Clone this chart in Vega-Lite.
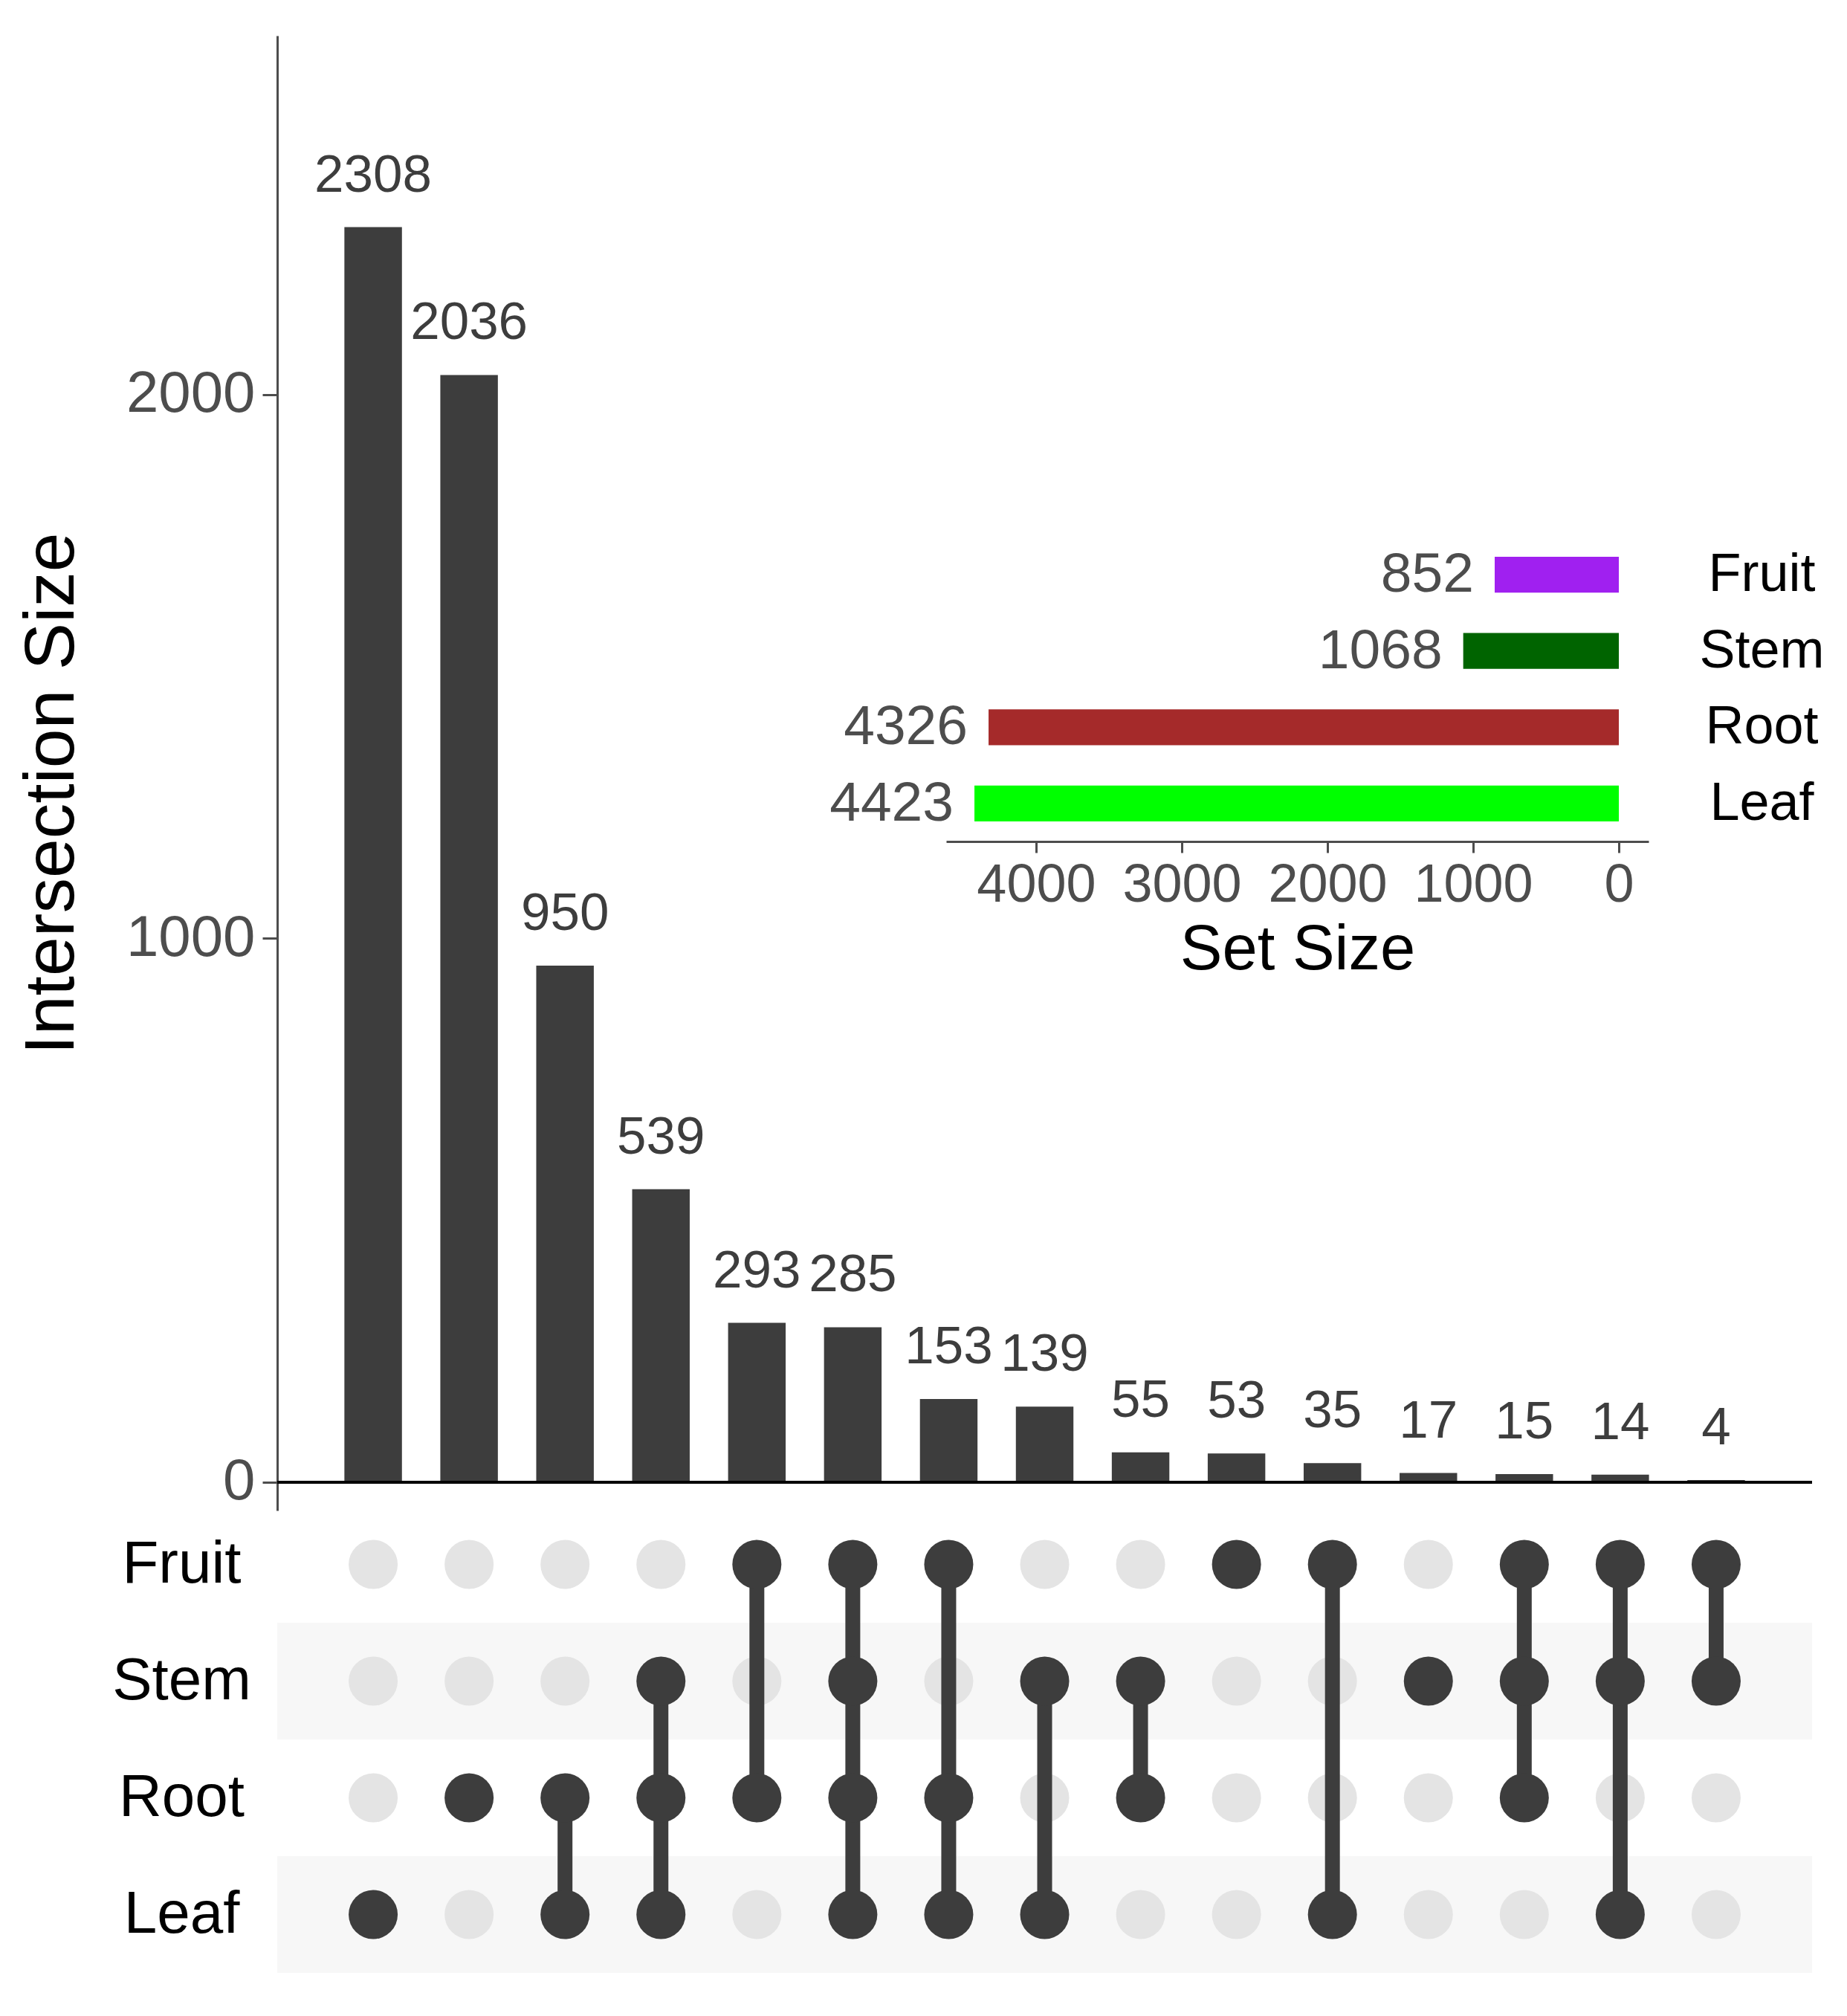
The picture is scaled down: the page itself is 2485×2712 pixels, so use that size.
{
  "$schema": "https://vega.github.io/schema/vega-lite/v6.json",
  "width": 2065,
  "height": 2606,
  "autosize": {"type": "none"},
  "padding": {"left": 373, "top": 48, "right": 47, "bottom": 58},
  "background": "white",
  "config": {"view": {"stroke": null}, "font": "Liberation Sans"},
  "datasets": {
    "bars": [
      {"id": "Leaf", "count": 2308},
      {"id": "Root", "count": 2036},
      {"id": "Root|Leaf", "count": 950},
      {"id": "Stem|Root|Leaf", "count": 539},
      {"id": "Fruit|Root", "count": 293},
      {"id": "Fruit|Stem|Root|Leaf", "count": 285},
      {"id": "Fruit|Root|Leaf", "count": 153},
      {"id": "Stem|Leaf", "count": 139},
      {"id": "Stem|Root", "count": 55},
      {"id": "Fruit", "count": 53},
      {"id": "Fruit|Leaf", "count": 35},
      {"id": "Stem", "count": 17},
      {"id": "Fruit|Stem|Root", "count": 15},
      {"id": "Fruit|Stem|Leaf", "count": 14},
      {"id": "Fruit|Stem", "count": 4}
    ],
    "matrix": [
      {"id": "Leaf", "set": "Fruit", "m": 0}, {"id": "Leaf", "set": "Stem", "m": 0}, {"id": "Leaf", "set": "Root", "m": 0}, {"id": "Leaf", "set": "Leaf", "m": 1},
      {"id": "Root", "set": "Fruit", "m": 0}, {"id": "Root", "set": "Stem", "m": 0}, {"id": "Root", "set": "Root", "m": 1}, {"id": "Root", "set": "Leaf", "m": 0},
      {"id": "Root|Leaf", "set": "Fruit", "m": 0}, {"id": "Root|Leaf", "set": "Stem", "m": 0}, {"id": "Root|Leaf", "set": "Root", "m": 1}, {"id": "Root|Leaf", "set": "Leaf", "m": 1},
      {"id": "Stem|Root|Leaf", "set": "Fruit", "m": 0}, {"id": "Stem|Root|Leaf", "set": "Stem", "m": 1}, {"id": "Stem|Root|Leaf", "set": "Root", "m": 1}, {"id": "Stem|Root|Leaf", "set": "Leaf", "m": 1},
      {"id": "Fruit|Root", "set": "Fruit", "m": 1}, {"id": "Fruit|Root", "set": "Stem", "m": 0}, {"id": "Fruit|Root", "set": "Root", "m": 1}, {"id": "Fruit|Root", "set": "Leaf", "m": 0},
      {"id": "Fruit|Stem|Root|Leaf", "set": "Fruit", "m": 1}, {"id": "Fruit|Stem|Root|Leaf", "set": "Stem", "m": 1}, {"id": "Fruit|Stem|Root|Leaf", "set": "Root", "m": 1}, {"id": "Fruit|Stem|Root|Leaf", "set": "Leaf", "m": 1},
      {"id": "Fruit|Root|Leaf", "set": "Fruit", "m": 1}, {"id": "Fruit|Root|Leaf", "set": "Stem", "m": 0}, {"id": "Fruit|Root|Leaf", "set": "Root", "m": 1}, {"id": "Fruit|Root|Leaf", "set": "Leaf", "m": 1},
      {"id": "Stem|Leaf", "set": "Fruit", "m": 0}, {"id": "Stem|Leaf", "set": "Stem", "m": 1}, {"id": "Stem|Leaf", "set": "Root", "m": 0}, {"id": "Stem|Leaf", "set": "Leaf", "m": 1},
      {"id": "Stem|Root", "set": "Fruit", "m": 0}, {"id": "Stem|Root", "set": "Stem", "m": 1}, {"id": "Stem|Root", "set": "Root", "m": 1}, {"id": "Stem|Root", "set": "Leaf", "m": 0},
      {"id": "Fruit", "set": "Fruit", "m": 1}, {"id": "Fruit", "set": "Stem", "m": 0}, {"id": "Fruit", "set": "Root", "m": 0}, {"id": "Fruit", "set": "Leaf", "m": 0},
      {"id": "Fruit|Leaf", "set": "Fruit", "m": 1}, {"id": "Fruit|Leaf", "set": "Stem", "m": 0}, {"id": "Fruit|Leaf", "set": "Root", "m": 0}, {"id": "Fruit|Leaf", "set": "Leaf", "m": 1},
      {"id": "Stem", "set": "Fruit", "m": 0}, {"id": "Stem", "set": "Stem", "m": 1}, {"id": "Stem", "set": "Root", "m": 0}, {"id": "Stem", "set": "Leaf", "m": 0},
      {"id": "Fruit|Stem|Root", "set": "Fruit", "m": 1}, {"id": "Fruit|Stem|Root", "set": "Stem", "m": 1}, {"id": "Fruit|Stem|Root", "set": "Root", "m": 1}, {"id": "Fruit|Stem|Root", "set": "Leaf", "m": 0},
      {"id": "Fruit|Stem|Leaf", "set": "Fruit", "m": 1}, {"id": "Fruit|Stem|Leaf", "set": "Stem", "m": 1}, {"id": "Fruit|Stem|Leaf", "set": "Root", "m": 0}, {"id": "Fruit|Stem|Leaf", "set": "Leaf", "m": 1},
      {"id": "Fruit|Stem", "set": "Fruit", "m": 1}, {"id": "Fruit|Stem", "set": "Stem", "m": 1}, {"id": "Fruit|Stem", "set": "Root", "m": 0}, {"id": "Fruit|Stem", "set": "Leaf", "m": 0}
    ],
    "sets": [
      {"set": "Fruit", "size": 852},
      {"set": "Stem", "size": 1068},
      {"set": "Root", "size": 4326},
      {"set": "Leaf", "size": 4423}
    ]
  },
  "layer": [
    {
      "layer": [
        {
          "data": {"name": "bars"},
          "encoding": {
            "x": {
              "field": "id", "type": "nominal",
              "scale": {
                "domain": ["Leaf", "Root", "Root|Leaf", "Stem|Root|Leaf", "Fruit|Root", "Fruit|Stem|Root|Leaf", "Fruit|Root|Leaf", "Stem|Leaf", "Stem|Root", "Fruit", "Fruit|Leaf", "Stem", "Fruit|Stem|Root", "Fruit|Stem|Leaf", "Fruit|Stem"],
                "paddingInner": 0.4, "paddingOuter": 0.7
              },
              "axis": null
            },
            "y": {
              "field": "count", "type": "quantitative",
              "scale": {"domain": [-52, 2660], "range": [1984, 0], "nice": false, "zero": false},
              "axis": {
                "orient": "left", "values": [0, 1000, 2000], "format": "d", "grid": false,
                "title": "Intersection Size", "titleFontSize": 95, "titleFontWeight": "normal", "titleColor": "#000000", "titlePadding": 55, "titleY": 1019,
                "labelFontSize": 78, "labelColor": "#4d4d4d", "labelPadding": 10, "labelLimit": 0,
                "tickSize": 20, "tickWidth": 3, "tickColor": "#4d4d4d",
                "domainColor": "#4d4d4d", "domainWidth": 3
              }
            }
          },
          "layer": [
            {"mark": {"type": "bar", "color": "#3d3d3d"}, "encoding": {"y2": {"datum": 0}}},
            {"mark": {"type": "text", "baseline": "alphabetic", "dy": -48, "fontSize": 71, "color": "#3d3d3d"}, "encoding": {"text": {"field": "count", "type": "quantitative", "format": "d"}}},
            {"mark": {"type": "rule", "color": "#000000", "strokeWidth": 4}, "encoding": {"x": null, "y": {"datum": 0}}}
          ]
        },
        {
          "encoding": {
            "x": {"field": "id", "type": "nominal", "axis": null},
            "y": {
              "field": "set", "type": "nominal",
              "scale": {"domain": ["Fruit", "Stem", "Root", "Leaf"], "range": [1978, 2606], "paddingInner": 0, "paddingOuter": 0},
              "axis": {
                "orient": "left", "title": null, "domain": false, "ticks": false, "tickSize": 0,
                "labelFontSize": 80, "labelColor": "#000000", "labelAlign": "center", "labelPadding": 129, "labelLimit": 0
              }
            }
          },
          "layer": [
            {
              "data": {"name": "sets"},
              "transform": [{"filter": "datum.set === 'Stem' || datum.set === 'Leaf'"}],
              "mark": {"type": "rect", "color": "#f7f7f7"},
              "encoding": {"x": null}
            },
            {
              "data": {"name": "matrix"},
              "transform": [{"filter": "datum.m === 0"}],
              "mark": {"type": "circle", "size": 4356, "opacity": 1, "color": "#e4e4e4"}
            },
            {
              "data": {"name": "matrix"},
              "transform": [{"filter": "datum.m === 1"}],
              "mark": {"type": "line", "strokeWidth": 20, "color": "#3d3d3d"},
              "encoding": {"detail": {"field": "id"}}
            },
            {
              "data": {"name": "matrix"},
              "transform": [{"filter": "datum.m === 1"}],
              "mark": {"type": "circle", "size": 4356, "opacity": 1, "color": "#3d3d3d"}
            }
          ]
        }
      ],
      "resolve": {"scale": {"y": "independent"}}
    },
    {
      "data": {"name": "sets"},
      "encoding": {
        "y": {
          "field": "set", "type": "nominal",
          "scale": {"domain": ["Fruit", "Stem", "Root", "Leaf"], "range": [673.7, 1084.3], "paddingInner": 0.53, "paddingOuter": 0.265},
          "axis": {
            "orient": "right", "title": null, "domain": false, "ticks": false, "tickSize": 0, "offset": -100,
            "labelFontSize": 72, "labelColor": "#000000", "labelAlign": "center", "labelPadding": 32, "labelLimit": 0
          }
        },
        "x": {
          "field": "size", "type": "quantitative",
          "scale": {"domain": [-204, 4617], "range": [1845, 900], "nice": false, "zero": false},
          "axis": {
            "orient": "bottom", "offset": -1522, "values": [0, 1000, 2000, 3000, 4000], "format": "d", "grid": false,
            "title": "Set Size", "titleFontSize": 85, "titleFontWeight": "normal", "titleColor": "#000000", "titlePadding": 10,
            "labelFontSize": 72, "labelColor": "#4d4d4d", "labelPadding": 8, "labelLimit": 0,
            "tickSize": 15, "tickWidth": 3, "tickColor": "#4d4d4d",
            "domainColor": "#4d4d4d", "domainWidth": 3
          }
        }
      },
      "layer": [
        {
          "mark": {"type": "bar"},
          "encoding": {
            "x2": {"datum": 0},
            "color": {"field": "set", "type": "nominal", "scale": {"domain": ["Fruit", "Stem", "Root", "Leaf"], "range": ["#a020f0", "#006400", "#a52a2a", "#00ff00"]}, "legend": null}
          }
        },
        {
          "mark": {"type": "text", "align": "right", "baseline": "middle", "dx": -28, "fontSize": 75, "color": "#4d4d4d"},
          "encoding": {"text": {"field": "size", "type": "quantitative", "format": "d"}}
        }
      ]
    }
  ],
  "resolve": {"scale": {"x": "independent", "y": "independent"}}
}
